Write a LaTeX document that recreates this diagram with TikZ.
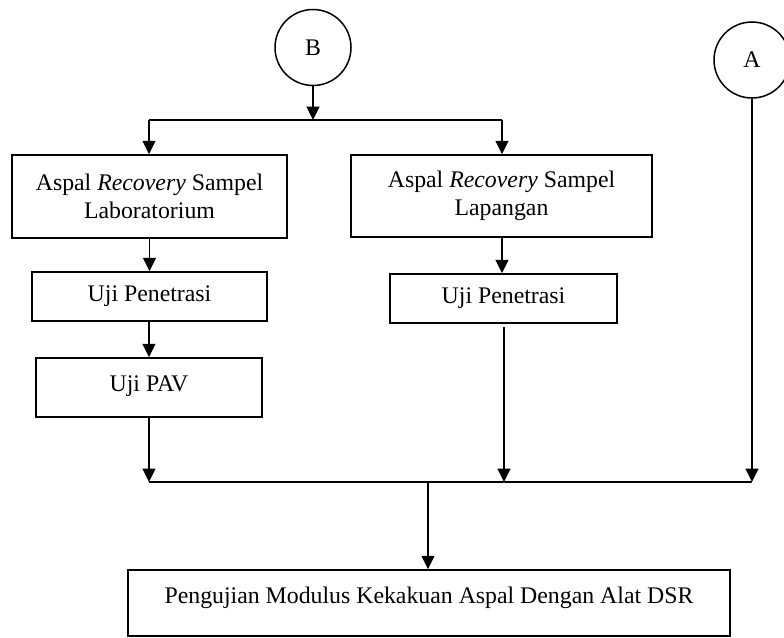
\documentclass[tikz,border=0pt]{standalone}
\usepackage{fontspec}
\setmainfont{Liberation Serif}
\usetikzlibrary{arrows.meta}
\begin{document}
\begin{tikzpicture}[x=1pt,y=-1pt,
  every node/.style={font=\fontsize{23.8}{28}\selectfont},
  box/.style={draw,line width=1.5pt,rectangle,inner sep=0pt,align=center},
  conn/.style={draw,circle,line width=1.5pt,minimum size=76pt,inner sep=0pt},
  line/.style={line width=1.5pt},
  arr/.style={line width=1.5pt,-{Triangle[length=13.5pt,width=13pt]}}]
\useasboundingbox (0,0) rectangle (784,637);
\node[conn] (B) at (313,47.5) {B};
\node[conn] (A) at (752,60) {A};
\node[box,minimum width=275pt,minimum height=83pt] (lab) at (149.5,196.5) {Aspal \textit{Recovery} Sampel\\Laboratorium};
\node[box,minimum width=301pt,minimum height=82pt] (lap) at (501.5,196) {Aspal \textit{Recovery} Sampel\\Lapangan};
\node[box,minimum width=235pt,minimum height=49pt] (pen1) at (149.5,296.5) {Uji Penetrasi};
\node[box,minimum width=227pt,minimum height=49pt] (pen2) at (503.5,298.5) {Uji Penetrasi};
\node[box,minimum width=226pt,minimum height=59pt,text height=16pt,text depth=9pt] (pav) at (149,387.5) {Uji PAV};
\node[box,minimum width=602pt,minimum height=66pt,text height=16pt,text depth=16pt] (dsr) at (429,603) {Pengujian Modulus Kekakuan Aspal Dengan Alat DSR};
\coordinate (sb) at (313,120);
\coordinate (sl) at (149,120);
\coordinate (sr) at (502,120);
\coordinate (jl) at (149,482);
\coordinate (jm) at (504,482);
\coordinate (jr) at (752,482);
\coordinate (jc) at (428,482);
\draw[arr] (B.south) -- (sb);
\draw[line] (sl) -- (sr);
\draw[arr] (sl) -- (sl |- lab.north);
\draw[arr] (sr) -- (sr |- lap.north);
\draw[arr] (lab.south -| pen1.north) -- (pen1.north);
\draw[arr] (pen1.south -| pav.north) -- (pav.north);
\draw[arr] (sr |- lap.south) -- (sr |- pen2.north);
\draw[arr] (pav.south -| jl) -- (jl);
\draw[arr] ([yshift=-3pt]pen2.south -| jm) -- (jm);
\draw[arr] (A.south) -- (jr);
\draw[line] (jl) -- (jr);
\draw[arr] (jc) -- (jc |- dsr.north);
\end{tikzpicture}
\end{document}
